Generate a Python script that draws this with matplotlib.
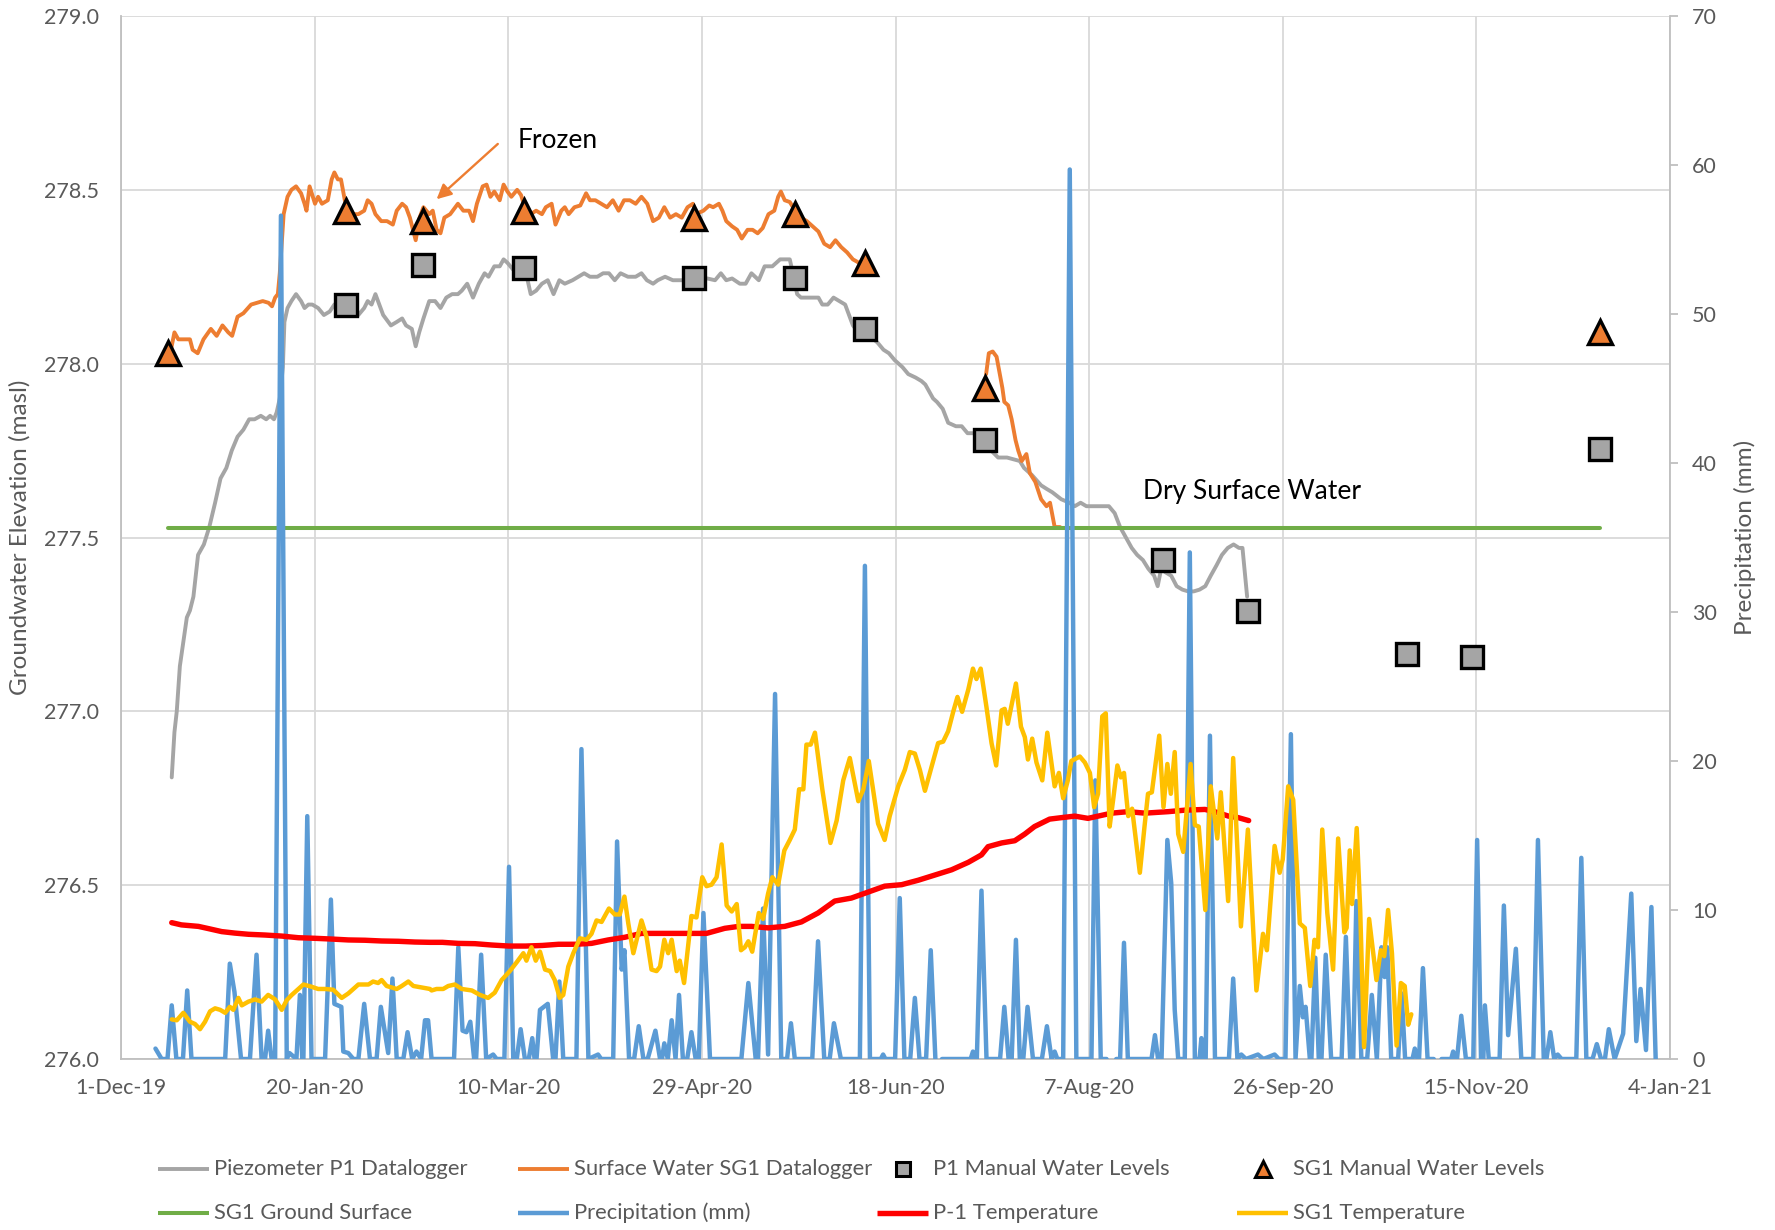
import numpy as np
import matplotlib
matplotlib.use("Agg")
import matplotlib.pyplot as plt
from matplotlib.lines import Line2D
from matplotlib.ticker import FormatStrFormatter

plt.rcParams['font.family'] = ['Lato', 'DejaVu Sans']

NaN = float('nan')

# ---------------- data (x = days since 1-Dec-2019) ----------------
x_tick_days = [0, 50, 100, 150, 200, 250, 300, 350, 400]
x_tick_labels = ['1-Dec-19', '20-Jan-20', '10-Mar-20', '29-Apr-20', '18-Jun-20',
                 '7-Aug-20', '26-Sep-20', '15-Nov-20', '4-Jan-21']

p1_logger = [
    (13.1, 276.81), (13.8, 276.94), (14.4, 277.00), (15.2, 277.13), (16.1, 277.20), (17.0, 277.27),
    (17.8, 277.29), (18.7, 277.33), (19.9, 277.45), (21.4, 277.48), (22.8, 277.53), (24.3, 277.60),
    (25.7, 277.67), (27.2, 277.70), (28.6, 277.75), (30.1, 277.79), (31.6, 277.81), (33.1, 277.84),
    (34.5, 277.84), (36.1, 277.85), (37.5, 277.84), (38.5, 277.85), (39.5, 277.84), (40.2, 277.86),
    (41.0, 277.90), (41.8, 277.99), (42.2, 278.12), (43.0, 278.16), (44.0, 278.18), (45.2, 278.20),
    (46.5, 278.18), (47.4, 278.16), (48.4, 278.17), (49.4, 278.17), (50.9, 278.16), (52.4, 278.14),
    (53.9, 278.15), (55.1, 278.17), (56.4, 278.18), (57.8, 278.18), (59.8, 278.16), (61.3, 278.14),
    (62.8, 278.16), (63.7, 278.18), (64.7, 278.17), (65.7, 278.20), (66.7, 278.17), (67.7, 278.14),
    (69.7, 278.11), (71.2, 278.12), (72.6, 278.13), (73.6, 278.11), (75.1, 278.10), (76.1, 278.05),
    (77.0, 278.09), (78.1, 278.13), (79.6, 278.18), (81.1, 278.18), (82.5, 278.16), (84.0, 278.19),
    (85.5, 278.20), (87.0, 278.20), (88.0, 278.21), (89.4, 278.23), (90.9, 278.19), (92.4, 278.23),
    (93.9, 278.26), (94.9, 278.25), (96.4, 278.28), (97.8, 278.28), (98.8, 278.30), (99.8, 278.29),
    (101.3, 278.27), (103.2, 278.28), (104.8, 278.25), (105.8, 278.20), (107.2, 278.21), (108.7, 278.23),
    (110.2, 278.24), (111.7, 278.20), (113.2, 278.24), (114.6, 278.23), (116.6, 278.24), (118.1, 278.25),
    (119.6, 278.26), (121.1, 278.25), (123.0, 278.25), (124.5, 278.26), (126.0, 278.26), (127.5, 278.24),
    (129.0, 278.26), (130.9, 278.25), (132.9, 278.25), (134.4, 278.26), (135.8, 278.24), (137.4, 278.23),
    (138.6, 278.24), (140.5, 278.25), (142.5, 278.24), (145.5, 278.24), (148.0, 278.245), (151.4, 278.245),
    (153.4, 278.24), (154.9, 278.26), (156.3, 278.24), (157.8, 278.245), (159.8, 278.23), (161.3, 278.23),
    (162.8, 278.26), (164.7, 278.24), (166.2, 278.28), (168.2, 278.28), (170.2, 278.30), (171.7, 278.30),
    (172.7, 278.30), (173.7, 278.25), (174.6, 278.20), (175.6, 278.19), (177.1, 278.19), (178.6, 278.19),
    (180.1, 278.19), (181.1, 278.17), (182.5, 278.17), (184.0, 278.19), (185.5, 278.18), (187.0, 278.17),
    (188.0, 278.14), (189.0, 278.11), (190.4, 278.09), (191.9, 278.09), (193.4, 278.08), (195.4, 278.06),
    (196.9, 278.04), (198.3, 278.03), (199.8, 278.01), (201.8, 277.99), (203.3, 277.97), (205.2, 277.96),
    (206.7, 277.95), (207.7, 277.94), (208.7, 277.92), (209.7, 277.90), (210.7, 277.89), (212.2, 277.87),
    (213.6, 277.83), (215.6, 277.82), (217.1, 277.82), (218.6, 277.80), (220.1, 277.80), (221.6, 277.79),
    (223.0, 277.78), (224.7, 277.75), (226.5, 277.73), (228.8, 277.73), (232.1, 277.72), (233.2, 277.70),
    (235.2, 277.68), (237.6, 277.65), (239.0, 277.64), (240.5, 277.63), (242.8, 277.61), (244.9, 277.60),
    (246.3, 277.59), (247.8, 277.60), (249.3, 277.59), (250.7, 277.59), (253.7, 277.59), (255.1, 277.59),
    (256.6, 277.57), (258.0, 277.53), (259.5, 277.50), (261.0, 277.47), (262.4, 277.45), (263.9, 277.435),
    (265.3, 277.41), (266.8, 277.39), (267.7, 277.36), (268.6, 277.41), (269.7, 277.40), (271.2, 277.39),
    (272.6, 277.36), (274.1, 277.35), (275.6, 277.345), (277.0, 277.345), (278.5, 277.35), (280.0, 277.36),
    (281.4, 277.39), (282.9, 277.42), (284.3, 277.45), (285.8, 277.47), (287.3, 277.48), (288.7, 277.47),
    (289.6, 277.47), (290.2, 277.40), (290.8, 277.33),
]

sg1_logger = [
    (12.9, 278.04), (13.8, 278.09), (14.8, 278.07), (16.3, 278.07), (17.8, 278.07), (18.5, 278.04),
    (19.8, 278.03), (21.3, 278.07), (23.2, 278.10), (24.7, 278.08), (26.2, 278.11), (27.7, 278.09),
    (28.7, 278.08), (30.1, 278.135), (31.6, 278.145), (33.6, 278.17), (35.1, 278.175), (36.6, 278.18),
    (38.1, 278.175), (39.0, 278.165), (39.8, 278.19), (40.5, 278.20), (41.0, 278.26), (42.0, 278.43),
    (43.0, 278.48), (44.0, 278.50), (45.2, 278.51), (46.5, 278.49), (47.4, 278.46), (47.9, 278.44),
    (48.7, 278.51), (49.4, 278.485), (50.1, 278.46), (50.9, 278.48), (51.9, 278.46), (53.4, 278.47),
    (54.4, 278.53), (55.1, 278.55), (56.0, 278.53), (56.8, 278.53), (57.8, 278.47), (59.3, 278.43),
    (61.3, 278.43), (62.8, 278.44), (63.7, 278.47), (64.7, 278.46), (65.7, 278.43), (67.2, 278.41),
    (68.7, 278.41), (70.2, 278.40), (71.2, 278.44), (72.6, 278.46), (73.6, 278.45), (74.6, 278.42),
    (75.4, 278.385), (76.1, 278.355), (77.1, 278.42), (78.1, 278.45), (79.6, 278.43), (80.5, 278.44),
    (81.5, 278.385), (82.5, 278.375), (83.5, 278.42), (85.0, 278.43), (87.0, 278.46), (88.4, 278.44),
    (89.9, 278.44), (90.9, 278.41), (91.9, 278.46), (93.4, 278.51), (94.4, 278.515), (95.4, 278.48),
    (96.4, 278.495), (97.8, 278.47), (98.8, 278.515), (99.8, 278.495), (100.8, 278.48), (102.3, 278.50),
    (103.3, 278.485), (104.3, 278.45), (105.8, 278.43), (107.2, 278.44), (108.7, 278.43), (109.7, 278.45),
    (111.2, 278.46), (112.2, 278.40), (113.7, 278.44), (114.6, 278.45), (115.6, 278.43), (117.1, 278.45),
    (118.6, 278.455), (120.1, 278.49), (121.1, 278.47), (122.5, 278.47), (124.0, 278.46), (125.5, 278.45),
    (127.0, 278.47), (128.5, 278.44), (129.9, 278.47), (131.4, 278.47), (132.9, 278.46), (134.4, 278.48),
    (135.9, 278.46), (137.4, 278.41), (138.9, 278.42), (140.3, 278.45), (141.8, 278.42), (143.3, 278.43),
    (144.8, 278.42), (146.3, 278.45), (147.7, 278.46), (148.4, 278.43), (150.4, 278.44), (151.9, 278.455),
    (152.9, 278.45), (154.4, 278.46), (155.3, 278.44), (156.3, 278.41), (157.8, 278.395), (159.1, 278.385),
    (160.3, 278.36), (161.8, 278.385), (163.1, 278.385), (164.4, 278.375), (165.7, 278.39), (167.2, 278.43),
    (168.7, 278.44), (169.7, 278.48), (170.4, 278.495), (171.4, 278.47), (172.7, 278.465), (174.1, 278.44),
    (175.6, 278.42), (177.1, 278.41), (178.6, 278.395), (180.1, 278.38), (181.6, 278.345), (183.1, 278.335),
    (184.5, 278.355), (186.0, 278.335), (187.5, 278.32), (189.0, 278.30), (190.6, 278.29), (192.0, 278.28),
    (193.5, 278.27),
    (208.0, NaN),
    (223.4, 277.97), (224.1, 278.03), (225.1, 278.035), (226.1, 278.02), (227.1, 277.96), (227.6, 277.93),
    (228.1, 277.89), (229.1, 277.88), (230.0, 277.84), (231.0, 277.78), (231.7, 277.75), (232.6, 277.72),
    (233.8, 277.74), (234.7, 277.685), (236.1, 277.66), (237.6, 277.61), (239.0, 277.59), (239.9, 277.60),
    (241.1, 277.53), (242.5, 277.53),
]

p1_manual_day = [58.0, 78.0, 104.0, 148.0, 174.1, 192.0, 223.1, 269.0, 290.9, 332.0, 348.8, 382.0]
p1_manual_masl = [278.17, 278.285, 278.275, 278.245, 278.245, 278.10, 277.78, 277.435, 277.29,
                  277.165, 277.155, 277.755]

sg1_manual_day = [12.2, 58.0, 78.0, 104.0, 148.0, 174.1, 192.0, 223.1, 382.0]
sg1_manual_masl = [278.03, 278.44, 278.41, 278.44, 278.42, 278.43, 278.29, 277.93, 278.09]

ground_day = [12.2, 382.0]
ground_masl = [277.527, 277.527]

precip_mm = [
    (8.9, 0.7), (10.5, 0), (12.0, 0), (13.1, 3.6), (14.3, 0), (16.0, 0), (17.1, 4.6), (18.2, 0),
    (26.9, 0), (28.1, 6.4), (29.3, 4.5), (31.0, 0), (33.3, 0), (35.0, 7.0), (36.3, 0), (37.2, 0),
    (38.0, 1.9), (38.9, 0), (39.8, 0), (41.3, 56.6), (42.8, 0), (43.5, 0.4), (45.3, 0), (46.2, 4.3),
    (46.8, 0), (47.1, 0), (48.1, 16.3), (49.2, 0), (52.7, 0), (54.2, 10.7), (55.1, 3.7), (56.9, 3.5),
    (57.4, 0.5), (58.7, 0.4), (60.0, 0), (61.3, 0), (62.8, 3.7), (64.3, 0), (66.0, 0), (67.1, 3.5),
    (69.0, 0.4), (70.1, 5.4), (71.2, 0), (72.9, 0), (74.0, 1.8), (75.2, 0), (76.3, 0.5), (77.5, 0),
    (78.5, 2.6), (79.3, 2.6), (80.2, 0), (86.0, 0), (87.1, 7.5), (88.2, 1.9), (89.2, 1.8), (90.2, 2.5),
    (91.2, 0), (91.7, 0), (93.0, 7.0), (94.3, 0), (96.1, 0.3), (97.0, 0), (99.0, 0), (100.2, 12.9),
    (101.3, 0), (102.2, 0), (103.2, 2.0), (104.3, 0), (105.3, 0), (106.2, 1.4), (106.8, 0), (107.3, 0),
    (108.2, 3.3), (110.2, 3.7), (111.6, 0), (112.2, 0), (113.2, 5.2), (114.2, 0), (117.6, 0),
    (118.9, 20.8), (120.7, 0), (123.2, 0.3), (124.0, 0), (127.1, 0), (128.1, 14.6), (129.3, 6.0),
    (130.0, 7.3), (131.2, 0), (132.5, 0), (133.7, 2.2), (134.9, 0), (136.0, 0), (138.0, 1.9),
    (139.2, 0), (139.7, 0), (140.3, 1.05), (141.2, 0), (142.2, 2.6), (143.2, 0), (144.1, 4.3),
    (145.1, 0), (146.2, 0), (147.3, 1.8), (148.4, 0), (149.2, 0), (150.4, 9.8), (152.1, 0),
    (160.2, 0), (162.0, 5.1), (163.9, 0), (164.5, 0), (165.8, 10.1), (167.1, 0.3), (168.9, 24.5),
    (170.5, 0), (172.0, 0), (173.0, 2.4), (174.0, 0), (178.5, 0), (180.0, 7.9), (181.6, 0),
    (183.0, 0), (184.1, 2.4), (185.9, 0), (190.8, 0), (192.1, 33.1), (193.4, 0), (196.2, 0),
    (196.8, 0.3), (197.4, 0), (199.9, 0), (201.1, 10.8), (202.3, 0), (203.8, 0), (205.0, 4.1),
    (206.2, 0), (207.9, 0), (209.1, 7.3), (210.3, 0), (211.0, NaN), (212.0, 0), (219.4, 0),
    (220.0, 0.5), (220.6, 0), (221.0, 0), (222.2, 11.3), (223.5, 0), (227.0, 0), (228.1, 3.5),
    (229.2, 0), (230.0, 0), (231.1, 8.0), (232.1, 0), (233.0, 0), (234.1, 3.5), (235.5, 0),
    (237.8, 0), (239.1, 2.2), (240.3, 0), (241.1, 0.5), (241.8, 0), (243.3, 0), (245.0, 59.7),
    (246.7, 0), (250.6, 0), (251.6, 18.7), (253.0, 0), (254.5, 0), (255.5, NaN), (257.0, 0),
    (258.0, 0), (259.0, 7.8), (260.0, 0), (266.1, 0), (267.0, 1.6), (267.8, 0), (268.7, 0),
    (270.2, 14.7), (271.2, 11.8), (272.1, 3.3), (273.0, 0), (274.7, 0), (276.0, 34.0), (277.3, 0),
    (278.5, 0), (279.0, 1.4), (279.5, 0), (280.1, 0), (281.2, 21.7), (282.5, 0), (284.2, 0),
    (286.1, 0), (287.2, 5.4), (288.3, 0), (289.3, 0.3), (290.5, 0), (293.6, 0.3), (295.0, 0),
    (297.9, 0.3), (299.0, 0), (300.7, 0), (302.1, 21.8), (303.3, 0), (304.4, 4.9), (305.2, 2.8),
    (305.9, 3.5), (307.0, 0), (307.4, 0), (308.4, 6.8), (309.3, 0), (310.0, 0), (311.1, 7.0),
    (312.5, 0), (315.2, 0), (316.3, 8.2), (317.4, 0), (318.2, 0), (319.0, 10.6), (320.3, 0),
    (321.8, 0), (323.0, 4.3), (324.3, 0), (325.5, 7.5), (326.3, 5.5), (327.0, 7.5), (328.0, 0),
    (329.8, 0), (330.7, 4.4), (331.6, 0), (333.5, 0), (334.1, 0.7), (334.8, 0), (335.2, 0),
    (336.2, 6.1), (337.4, 0), (339.0, 0), (339.5, NaN), (341.0, 0), (343.5, 0), (344.0, 0.5),
    (344.6, 0), (345.0, 0), (346.1, 2.9), (347.3, 0), (349.2, 0), (350.2, 14.7), (351.2, 0),
    (351.8, 0), (352.2, 3.6), (353.2, 0), (356.0, 0), (357.1, 10.3), (358.2, 1.6), (360.2, 7.4),
    (361.6, 0), (364.7, 0), (365.9, 14.7), (367.4, 0), (368.1, 0), (369.1, 1.8), (370.1, 0),
    (371.0, 0.3), (372.0, 0), (375.8, 0), (377.1, 13.5), (378.4, 0), (380.0, 0), (381.1, 1.0),
    (382.2, 0), (383.2, 0), (384.2, 2.0), (385.7, 0), (387.9, 1.7), (390.0, 11.1), (391.3, 1.2),
    (392.4, 4.7), (393.8, 0.6), (395.2, 10.2), (396.3, 0),
]

p1_temp = [
    (13.1, 9.15), (15.6, 9.0), (20.0, 8.9), (22.6, 8.75), (26.0, 8.55), (29.4, 8.45), (32.9, 8.37),
    (37.2, 8.32), (41.5, 8.25), (45.8, 8.14), (50.1, 8.10), (54.4, 8.05), (58.7, 7.99), (63.0, 7.97),
    (67.3, 7.92), (71.6, 7.90), (75.9, 7.85), (79.8, 7.83), (83.0, 7.83), (87.1, 7.76), (91.4, 7.74),
    (95.7, 7.65), (100.2, 7.58), (104.5, 7.58), (108.8, 7.62), (113.0, 7.70), (117.3, 7.70),
    (121.5, 7.76), (125.8, 7.99), (130.1, 8.17), (134.4, 8.43), (138.7, 8.43), (143.0, 8.43),
    (147.3, 8.43), (151.2, 8.43), (155.9, 8.77), (159.5, 8.90), (162.8, 8.90), (167.1, 8.80),
    (171.4, 8.90), (175.7, 9.20), (180.0, 9.80), (184.3, 10.6), (188.6, 10.8), (192.9, 11.2),
    (197.2, 11.6), (201.6, 11.7), (205.9, 12.0), (210.2, 12.35), (214.5, 12.7), (218.8, 13.2),
    (222.2, 13.7), (223.9, 14.25), (227.4, 14.5), (230.8, 14.65), (233.4, 15.1), (235.9, 15.6),
    (239.8, 16.1), (242.9, 16.2), (246.3, 16.3), (249.7, 16.15), (255.8, 16.5), (260.1, 16.6),
    (264.4, 16.5), (270.4, 16.6), (274.7, 16.7), (279.9, 16.75), (282.4, 16.6), (286.0, 16.3),
    (288.5, 16.2), (291.2, 16.0),
]

sg1_temp = [
    (13.1, 2.66), (14.4, 2.6), (16.1, 3.1), (17.8, 2.5), (19.1, 2.35), (20.4, 2.0), (21.7, 2.5),
    (23.0, 3.2), (24.3, 3.4), (25.6, 3.3), (26.9, 3.1), (28.1, 3.5), (29.0, 3.3), (30.3, 4.1),
    (31.2, 3.6), (32.9, 3.85), (34.6, 4.0), (36.3, 3.85), (38.0, 4.3), (39.8, 4.0), (41.5, 3.3),
    (42.8, 3.95), (44.1, 4.3), (45.4, 4.6), (47.1, 5.0), (49.2, 4.85), (50.9, 4.7), (52.7, 4.7),
    (54.8, 4.65), (57.0, 4.1), (58.7, 4.4), (61.3, 5.0), (63.9, 5.0), (65.1, 5.2), (66.4, 5.1),
    (67.3, 5.3), (68.6, 4.9), (71.2, 4.7), (72.5, 4.9), (74.2, 5.2), (75.5, 4.9), (77.6, 4.8),
    (79.8, 4.7), (80.2, 4.6), (81.5, 4.7), (83.2, 4.7), (84.5, 4.9), (86.2, 5.0), (88.0, 4.7),
    (90.6, 4.6), (92.7, 4.3), (94.8, 4.1), (96.5, 4.45), (98.3, 5.3), (100.4, 5.9), (102.2, 6.5),
    (103.9, 7.1), (104.7, 6.6), (106.0, 7.5), (107.1, 6.6), (108.2, 7.2), (109.5, 6.0), (110.8, 5.9),
    (112.0, 5.3), (113.3, 4.1), (114.2, 4.3), (115.5, 6.2), (116.8, 7.1), (118.5, 8.1), (120.2, 8.0),
    (121.5, 8.4), (122.8, 9.3), (124.1, 9.2), (126.0, 10.1), (127.5, 9.7), (128.8, 9.7), (130.0, 10.9),
    (131.0, 9.1), (132.3, 7.1), (134.4, 9.3), (135.7, 8.2), (137.0, 6.0), (138.3, 5.9), (139.2, 6.2),
    (140.3, 8.0), (141.3, 7.1), (142.2, 8.0), (143.5, 5.9), (144.3, 6.6), (145.4, 5.1), (147.3, 9.6),
    (148.6, 9.5), (150.1, 12.2), (151.2, 11.6), (152.5, 11.7), (153.8, 12.2), (155.1, 14.4),
    (156.4, 10.3), (157.7, 9.9), (159.0, 10.4), (160.1, 7.3), (161.1, 7.5), (162.0, 7.9), (163.0, 7.2),
    (164.7, 9.8), (165.8, 9.4), (167.1, 11.1), (168.2, 12.2), (169.7, 11.7), (171.3, 14.0),
    (172.7, 14.7), (174.0, 15.4), (175.1, 18.1), (176.2, 18.1), (177.0, 21.1), (178.1, 21.1),
    (179.2, 21.9), (181.1, 18.1), (183.2, 14.5), (184.8, 16.0), (186.5, 18.7), (188.2, 20.2),
    (190.4, 17.3), (191.7, 18.1), (193.1, 20.0), (194.2, 18.1), (195.5, 15.8), (197.2, 14.7),
    (198.5, 16.3), (200.7, 18.3), (202.4, 19.4), (203.7, 20.6), (205.0, 20.5), (206.3, 19.4),
    (207.6, 18.0), (209.3, 19.6), (211.0, 21.2), (212.3, 21.3), (213.6, 22.0), (214.9, 23.3),
    (216.0, 24.3), (217.2, 23.3), (218.8, 24.8), (220.0, 26.2), (220.9, 25.5), (222.0, 26.2),
    (223.5, 23.6), (224.8, 21.2), (226.0, 19.7), (227.4, 23.4), (228.2, 23.5), (229.0, 22.5),
    (231.1, 25.2), (232.4, 22.3), (233.4, 21.6), (234.2, 20.1), (235.3, 21.5), (236.4, 19.9),
    (237.9, 18.7), (239.2, 21.9), (241.1, 18.3), (242.2, 19.2), (243.3, 17.5), (244.5, 18.7),
    (245.4, 20.0), (247.6, 20.3), (248.9, 19.9), (250.2, 19.2), (251.3, 16.9), (252.3, 17.8),
    (253.4, 23.0), (254.3, 23.2), (255.3, 15.6), (256.2, 17.4), (257.3, 19.7), (258.2, 18.9),
    (259.0, 19.2), (260.1, 16.3), (261.1, 16.8), (263.1, 12.5), (264.3, 15.6), (265.2, 17.8),
    (266.2, 17.9), (268.1, 21.7), (269.2, 16.9), (270.2, 19.8), (271.1, 17.8), (272.1, 20.6),
    (273.0, 15.1), (274.3, 13.9), (276.2, 19.8), (277.3, 15.7), (278.3, 15.6), (280.0, 10.0),
    (281.4, 18.3), (283.1, 14.8), (284.0, 17.9), (285.9, 10.6), (287.2, 20.2), (289.2, 8.9),
    (291.0, 15.4), (293.2, 4.6), (294.9, 8.4), (295.9, 7.3), (297.9, 14.3), (299.2, 12.5),
    (300.0, 13.4), (301.4, 18.3), (302.7, 17.4), (304.4, 9.1), (305.7, 8.8), (307.1, 4.9),
    (308.2, 8.0), (309.1, 7.5), (310.2, 15.4), (311.5, 9.8), (313.0, 6.0), (314.3, 14.8),
    (315.9, 8.5), (316.5, 8.8), (317.3, 14.0), (317.9, 10.4), (319.1, 15.5), (320.0, 10.0),
    (321.0, 0.8), (322.3, 9.4), (324.2, 5.3), (325.3, 7.3), (326.2, 6.9), (327.2, 10.0), (328.2, 7.1),
    (329.4, 0.9), (330.5, 5.1), (331.5, 4.9), (332.4, 2.3), (333.2, 3.0),
]

legend_labels = ['Piezometer P1 Datalogger', 'Surface Water SG1 Datalogger', 'P1 Manual Water Levels',
                 'SG1 Manual Water Levels', 'SG1 Ground Surface', 'Precipitation (mm)',
                 'P-1 Temperature', 'SG1 Temperature']

# ---------------- styling ----------------
C_GRAY = '#A5A5A5'
C_ORANGE = '#ED7D31'
C_GREEN = '#70AD47'
C_BLUE = '#5B9BD5'
C_RED = '#FF0000'
C_YELLOW = '#FFC000'
C_GRID = '#D9D9D9'
C_AXIS = '#BFBFBF'
C_TEXT = '#595959'

W, H = 1775, 1230
fig = plt.figure(figsize=(W / 100, H / 100), dpi=100)
L, R, T, B = 121, 1670, 16, 1059
ax1 = fig.add_axes([L / W, 1 - B / H, (R - L) / W, (B - T) / H])
ax2 = ax1.twinx()


def xy(pairs):
    a = np.array(pairs, dtype=float)
    return a[:, 0], a[:, 1]


lk = dict(solid_joinstyle='round', solid_capstyle='round')
LW_WL = 2.8
LW_PR = 3.2
LW_RED = 3.9
LW_YEL = 3.2
LW_GRN = 2.9

d, v = xy(p1_logger)
ax1.plot(d, v, color=C_GRAY, lw=LW_WL, zorder=3, **lk)
d, v = xy(sg1_logger)
ax1.plot(d, v, color=C_ORANGE, lw=LW_WL, zorder=3, **lk)
ax1.plot(ground_day, ground_masl, color=C_GREEN, lw=LW_GRN, zorder=3, **lk)
ax1.plot(p1_manual_day, p1_manual_masl, ls='none', marker='s', ms=16.5, mfc=C_GRAY, mec='black',
         mew=2.4, zorder=5)
ax1.plot(sg1_manual_day, sg1_manual_masl, ls='none', marker='^', ms=17.5, mfc=C_ORANGE, mec='black',
         mew=2.4, zorder=5)

d, v = xy(precip_mm)
ax2.plot(d, v, color=C_BLUE, lw=LW_PR, zorder=3, **lk)
d, v = xy(p1_temp)
ax2.plot(d, v, color=C_RED, lw=LW_RED, zorder=4, **lk)
d, v = xy(sg1_temp)
ax2.plot(d, v, color=C_YELLOW, lw=LW_YEL, zorder=5, **lk)

# axes
ax1.set_xlim(0, 400)
ax1.set_ylim(276, 279)
ax2.set_ylim(0, 70)
ax1.set_xticks(x_tick_days)
ax1.set_xticklabels(x_tick_labels)
ax1.set_yticks(np.arange(276, 279.01, 0.5))
ax1.yaxis.set_major_formatter(FormatStrFormatter('%.1f'))
ax2.set_yticks(np.arange(0, 71, 10))

ax1.grid(True, color=C_GRID, lw=1.3)
ax1.set_axisbelow(True)
for s in ['top', 'right']:
    ax1.spines[s].set_visible(False)
for s in ['left', 'bottom']:
    ax1.spines[s].set_color(C_AXIS)
    ax1.spines[s].set_linewidth(1.3)
for s in ['top', 'left', 'bottom']:
    ax2.spines[s].set_visible(False)
ax2.spines['right'].set_color(C_AXIS)
ax2.spines['right'].set_linewidth(1.3)

ax1.tick_params(axis='x', length=0, pad=14, labelsize=15.5, labelcolor=C_TEXT)
ax1.tick_params(axis='y', length=0, pad=16, labelsize=15.5, labelcolor=C_TEXT)
ax2.tick_params(axis='y', length=6, width=1.3, color=C_AXIS, pad=10, labelsize=15.5,
                labelcolor=C_TEXT)

fig.text(20 / W, 1 - 537.5 / H, 'Groundwater Elevation (masl)', rotation=90, ha='center',
         va='center', fontsize=17.5, color=C_TEXT)
fig.text(1745 / W, 1 - 537.5 / H, 'Precipitation (mm)', rotation=90, ha='center',
         va='center', fontsize=17.5, color=C_TEXT)

# annotations
ax1.annotate('', xy=(81.5, 278.473), xytext=(97.3, 278.632),
             arrowprops=dict(arrowstyle='-|>', color=C_ORANGE, lw=1.7, mutation_scale=22,
                             shrinkA=0, shrinkB=0), zorder=6)
ax1.text(102.5, 278.62, 'Frozen', fontsize=19, color='black', ha='left', va='baseline')
ax1.text(263.8, 277.611, 'Dry Surface Water', fontsize=19, color='black', ha='left',
         va='baseline')

# legend (manual, 2 rows x 4 columns)
col_x = [158, 518, 877, 1237]
row_y = [1169, 1213]
styles = [
    dict(color=C_GRAY, lw=LW_WL), dict(color=C_ORANGE, lw=LW_WL),
    dict(marker='s', ms=10, mfc=C_GRAY, mec='black', mew=2.2),
    dict(marker='^', ms=11, mfc=C_ORANGE, mec='black', mew=2.2),
    dict(color=C_GREEN, lw=LW_GRN), dict(color=C_BLUE, lw=LW_PR),
    dict(color=C_RED, lw=LW_RED), dict(color=C_YELLOW, lw=LW_YEL),
]
hl = 51
for i, (lab, st) in enumerate(zip(legend_labels, styles)):
    r, c = divmod(i, 4)
    x0, y0 = col_x[c], row_y[r]
    yy = 1 - y0 / H
    if 'marker' in st:
        fig.add_artist(Line2D([(x0 + hl / 2) / W], [yy], ls='none', transform=fig.transFigure, **st))
    else:
        fig.add_artist(Line2D([x0 / W, (x0 + hl) / W], [yy, yy], transform=fig.transFigure,
                              solid_capstyle='butt', **st))
    fig.text((x0 + hl + 5) / W, yy, lab, ha='left', va='center', fontsize=15.8, color=C_TEXT)

fig.savefig('out.png', dpi=100)
